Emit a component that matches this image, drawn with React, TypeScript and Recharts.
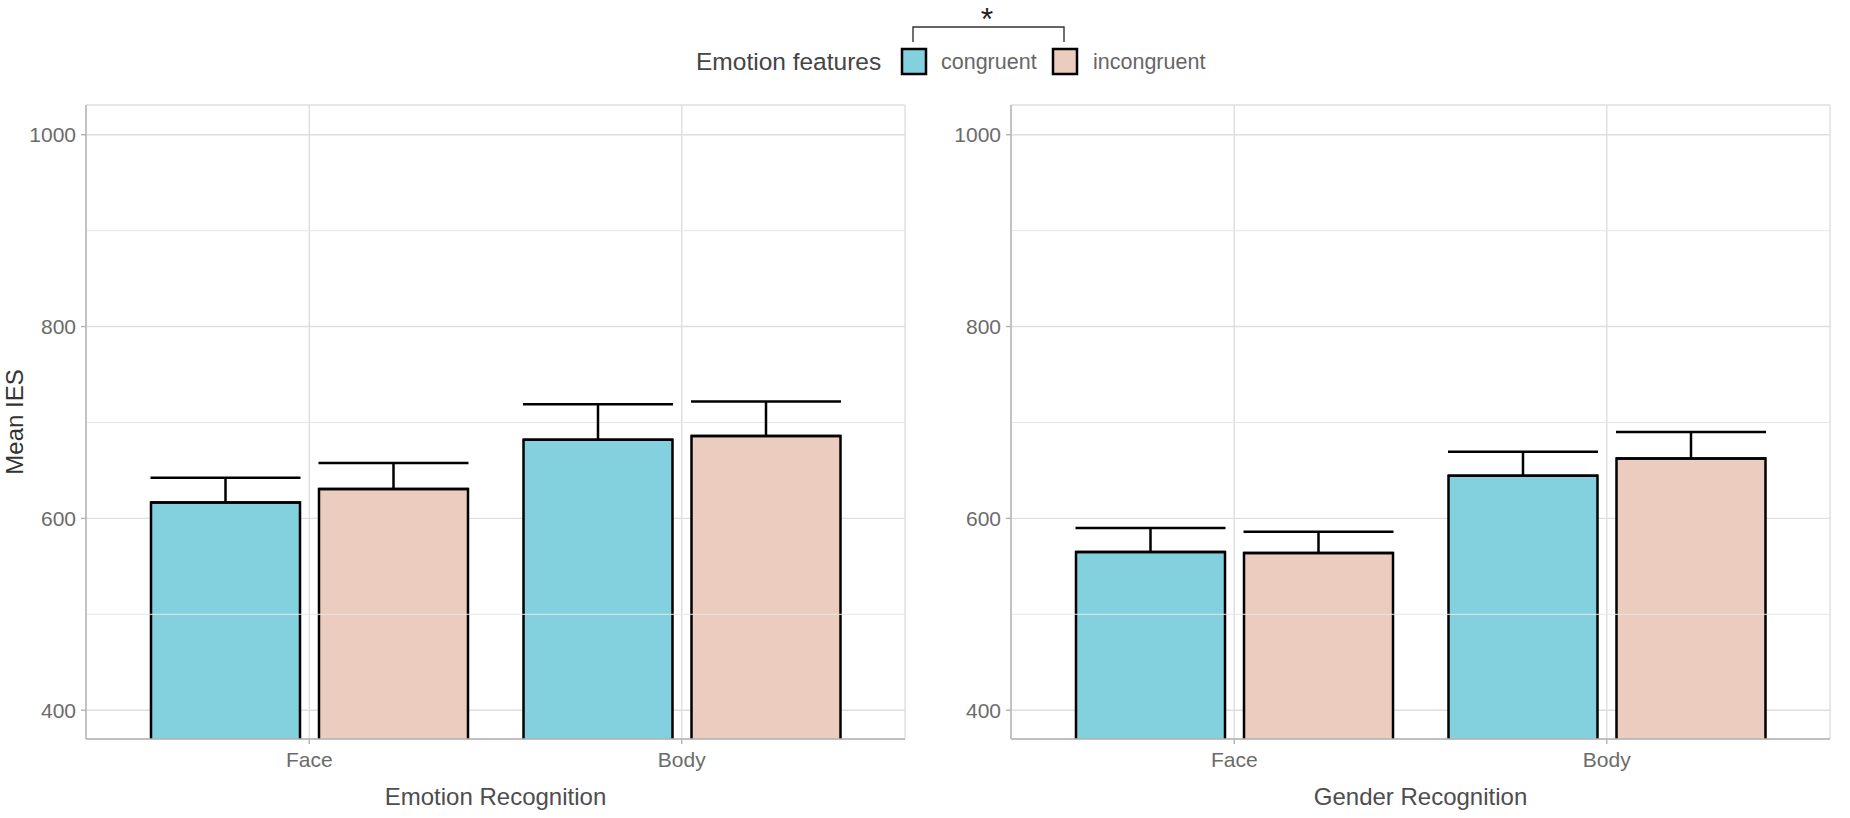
import { BarChart, Bar, XAxis, YAxis, CartesianGrid, ErrorBar, ReferenceLine } from 'recharts'

const categories = ['Face', 'Body']

// Emotion Recognition panel
const emotionCongruent = [616.5, 682]
const emotionCongruentErr = [26, 37]
const emotionIncongruent = [630.7, 686]
const emotionIncongruentErr = [27, 36]

// Gender Recognition panel
const genderCongruent = [565, 644.4]
const genderCongruentErr = [25, 25]
const genderIncongruent = [564, 662.5]
const genderIncongruentErr = [22, 27.5]

const yTicks = [400, 600, 800, 1000]
const yMinor = [500, 700, 900]

const CONGRUENT = '#83D0DE'
const INCONGRUENT = '#EBCCBE'
const BORDER = '#b3b3b3'
const FONT = '"Liberation Sans", Arial, sans-serif'

function buildRows(cong: number[], congErr: number[], inc: number[], incErr: number[]) {
  return categories.map((c, i) => ({
    cat: c,
    congruent: cong[i],
    congruentErr: [0, congErr[i]],
    incongruent: inc[i],
    incongruentErr: [0, incErr[i]],
  }))
}

// bar with fill + black outline on left/top/right only (bottom is cut by the panel)
function OpenBar(props: any) {
  const { x, y, width, height, fill } = props
  if (width == null || height == null) return null
  return (
    <g>
      <rect x={x} y={y} width={width} height={height} fill={fill} />
      <path
        d={`M${x},${y + height} V${y} H${x + width} V${y + height}`}
        fill="none"
        stroke="#000"
        strokeWidth={2.5}
      />
    </g>
  )
}

interface PanelProps {
  data: ReturnType<typeof buildRows>
  title: string
  showYTitle?: boolean
}

function Panel({ data, title, showYTitle }: PanelProps) {
  const border = { stroke: BORDER, strokeWidth: 1.4 }
  return (
    <BarChart
      width={930}
      height={818}
      data={data}
      margin={{ top: 105, right: 25, bottom: 0, left: 0 }}
      barSize={149}
      barGap={19}
      style={{ fontFamily: FONT }}
    >
      <CartesianGrid stroke="#dedede" strokeWidth={1.4} />
      {yMinor.map((v) => (
        <ReferenceLine key={v} y={v} stroke="#e6e6e6" strokeWidth={1} />
      ))}
      <XAxis
        dataKey="cat"
        padding={{ left: 37, right: 37 }}
        height={79}
        axisLine={border}
        tickLine={border}
        tickSize={5}
        tickMargin={8}
        tick={{ fill: '#6b6b6b', fontSize: 21 }}
        label={{ value: title, position: 'insideBottom', offset: 13, fill: '#4d4d4d', fontSize: 24 }}
      />
      {/* top edge of the panel border */}
      <XAxis
        xAxisId="top"
        dataKey="cat"
        orientation="top"
        height={0}
        axisLine={border}
        tick={false}
        tickLine={false}
      />
      <YAxis
        type="number"
        domain={[370, 1031]}
        allowDataOverflow
        ticks={yTicks}
        width={86}
        axisLine={border}
        tickLine={border}
        tickSize={5}
        tickMargin={5}
        tick={{ fill: '#6b6b6b', fontSize: 21 }}
        label={
          showYTitle
            ? { value: 'Mean IES', angle: -90, position: 'insideLeft', offset: 14, fill: '#333', fontSize: 24, style: { textAnchor: 'middle' } }
            : undefined
        }
      />
      {/* right edge of the panel border */}
      <YAxis
        yAxisId="right"
        orientation="right"
        type="number"
        domain={[370, 1031]}
        width={0}
        axisLine={border}
        tick={false}
        tickLine={false}
      />
      <Bar dataKey="congruent" fill={CONGRUENT} shape={OpenBar} isAnimationActive={false}>
        <ErrorBar dataKey="congruentErr" direction="y" width={75} stroke="#000" strokeWidth={2.5} isAnimationActive={false} />
      </Bar>
      <Bar dataKey="incongruent" fill={INCONGRUENT} shape={OpenBar} isAnimationActive={false}>
        <ErrorBar dataKey="incongruentErr" direction="y" width={75} stroke="#000" strokeWidth={2.5} isAnimationActive={false} />
      </Bar>
    </BarChart>
  )
}

function LegendHeader() {
  return (
    <svg width={1850} height={100} style={{ position: 'absolute', left: 0, top: 0, fontFamily: FONT }}>
      <text x={987} y={30} textAnchor="middle" fontSize={32} fill="#222">*</text>
      <path d="M913,42 V27 H1064 V42" fill="none" stroke="#333" strokeWidth={1.4} />
      <text x={696} y={70} fontSize={24.5} fill="#444">Emotion features</text>
      <rect x={902} y={49} width={24} height={25} fill={CONGRUENT} stroke="#000" strokeWidth={2.5} />
      <text x={941} y={69} fontSize={21.5} fill="#666">congruent</text>
      <rect x={1053} y={49} width={24} height={25} fill={INCONGRUENT} stroke="#000" strokeWidth={2.5} />
      <text x={1093} y={69} fontSize={21.5} fill="#666">incongruent</text>
    </svg>
  )
}

export default function App() {
  const emotionRows = buildRows(emotionCongruent, emotionCongruentErr, emotionIncongruent, emotionIncongruentErr)
  const genderRows = buildRows(genderCongruent, genderCongruentErr, genderIncongruent, genderIncongruentErr)
  return (
    <div style={{ position: 'absolute', left: 0, top: 0, width: 1850, height: 818, background: '#fff', fontFamily: FONT }}>
      <div style={{ position: 'absolute', left: 0, top: 0 }}>
        <Panel data={emotionRows} title="Emotion Recognition" showYTitle />
      </div>
      <div style={{ position: 'absolute', left: 925, top: 0 }}>
        <Panel data={genderRows} title="Gender Recognition" />
      </div>
      <LegendHeader />
    </div>
  )
}
